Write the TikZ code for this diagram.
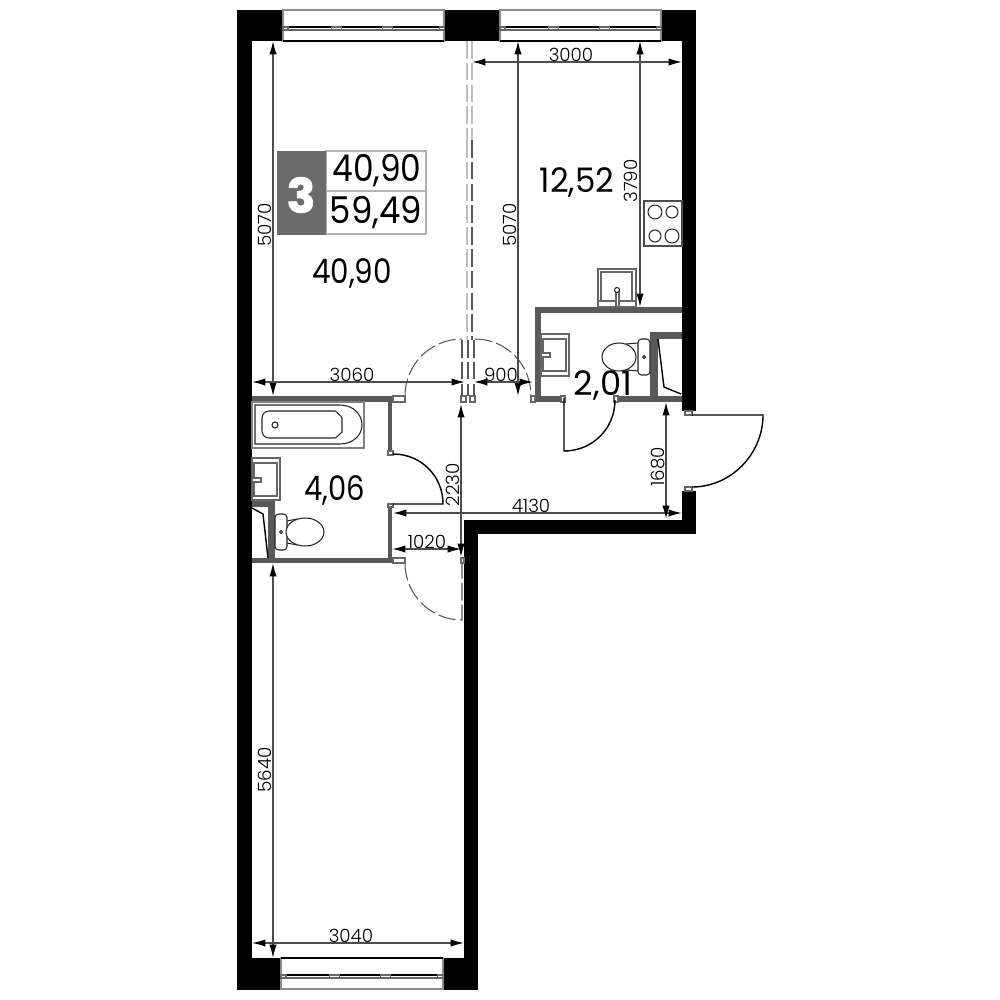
\documentclass[tikz,border=0pt]{standalone}
\usepackage{fontspec}
\setmainfont{Poppins}
\newfontfamily\thinfont{Poppins Light}
\usetikzlibrary{arrows.meta}
\definecolor{wallgray}{gray}{0.35}
\definecolor{badgegray}{gray}{0.42}
\def\dimPoints{{(273,41)/la}, {(273,396)/lb}, {(518,41)/ma}, {(518,396)/mb}, {(640,41)/ka}, {(640,307)/kb}, {(472,62)/ta}, {(682,62)/tb}, {(252,382)/ha}, {(465,382)/hb}, {(474,382)/da}, {(533,382)/db}, {(461,404)/ca}, {(461,557)/cb}, {(393,513)/ea}, {(682,513)/eb}, {(392,549)/ba}, {(461,549)/bb}, {(666,402)/fa}, {(666,519)/fb}, {(273,563)/sa}, {(273,958)/sb}, {(252,943)/ga}, {(464,943)/gb}}
\def\dimConnect{la/lb, ma/mb, ka/kb, ta/tb, ha/hb, da/db, ca/cb, ea/eb, ba/bb, fa/fb, sa/sb, ga/gb}
\tikzstyle{outer wall}=[fill=black,draw=none]
\tikzstyle{inner wall}=[fill=wallgray,draw=none]
\tikzstyle{fixture}=[draw=black!85,line width=0.3pt,fill=white]
\tikzstyle{basin}=[draw=black!60,line width=0.3pt,fill=white]
\tikzstyle{swing}=[draw=black,line width=0.4pt]
\tikzstyle{ghost line}=[draw=black!65,line width=0.3pt,dash pattern=on 5pt off 1.2pt]
\tikzstyle{faint line}=[draw=black!25,line width=0.35pt,dash pattern=on 5pt off 1.2pt]
\tikzstyle{jamb}=[draw=black!60,line width=0.3pt,fill=white]
\tikzstyle{pane}=[draw=black!45,line width=0.5pt,fill=white]
\tikzstyle{dimline}=[draw=black!70,line width=0.4pt,{Latex[black,length=3.8pt,width=2.1pt]}-{Latex[black,length=3.8pt,width=2.1pt]}]
\tikzstyle{dimend}=[coordinate]
\tikzstyle{dimlabel}=[font=\fontsize{5.2}{6}\selectfont\thinfont,inner sep=0pt]
\tikzstyle{area}=[font=\fontsize{9.6}{11}\selectfont,inner sep=0pt]
\begin{document}
\begin{tikzpicture}[x=0.01cm,y=-0.01cm]
  \useasboundingbox[fill=white] (0,0) rectangle (1000,1000);

  % First we draw the walls
  \foreach \ax/\ay/\bx/\by in {237/10/283/41, 444/10/500/41, 661/10/696/41, 237/41/252/990, 682/41/696/411, 682/491/696/534, 464/520/696/534, 464/534/478/958, 237/958/281/990, 443/958/478/990}
    \path[outer wall] (\ax,\ay) rectangle (\bx,\by);
  \foreach \ax/\ay/\bx/\by in {252/396/392/402, 388/396/392/452, 388/504/392/563, 252/558/392/563, 268/501/275/563, 252/501/275/507, 535/307/682/313, 535/307/541/402, 535/396/562/402, 616/396/682/402, 650/332/658/402, 650/332/682/339}
    \path[inner wall] (\ax,\ay) rectangle (\bx,\by);

  % Windows
  \foreach \ax/\bx/\ay/\ey in {283/444/10/41, 500/661/10/41, 281/443/958/958} {
    \path[pane] (\ax,\ay) rectangle (\bx,\ay+31);
    \draw[black,line width=0.4pt] (\ax,\ey) -- (\bx,\ey);
    \draw[black,line width=0.4pt] (\ax,\ay+17) -- (\bx,\ay+17);
    \draw[black!60,line width=0.5pt] (\ax,\ay+20) -- (\bx,\ay+20);
    \foreach \f/\w in {0/5, 0.3/10, 0.62/10, 0.97/5}
      \path[jamb] (\ax+\f*161,\ay+17) rectangle ++(\w,3);
  }

  % Partition and doors drawn as broken lines
  \foreach \lx in {467, 472}
    \draw[faint line] (\lx,41) -- (\lx,140);
  \draw[faint line] (467,140) -- (467,340);
  \draw[ghost line] (472,140) -- (472,340);
  \foreach \lx in {462, 468, 474}
    \draw[ghost line] (\lx,340) -- (\lx,396);
  \draw[ghost line] (405,396) .. controls (405,364) and (431,339) .. (462,339);
  \draw[ghost line] (475,339) .. controls (506,339) and (531,364) .. (531,396);
  \draw[ghost line] (405,563) .. controls (405,595) and (431,620) .. (462,620) -- (462,563);
  \foreach \ax/\ay/\bx/\by in {393/396/405/402, 393/558/405/563, 461/396/466/402, 470/396/475/402, 531/396/535/402, 461/558/464/563}
    \path[jamb] (\ax,\ay) rectangle (\bx,\by);

  % Doors
  \foreach \ax/\ay/\bx/\by in {388/451/393/455, 388/504/393/507, 561/396/565/402, 614/396/618/402, 685/411/692/415, 685/487/692/491}
    \path[jamb] (\ax,\ay) rectangle (\bx,\by);
  \draw[swing] (393,454) .. controls (421,454) and (443,476) .. (443,504) -- (393,504);
  \draw[swing] (564,398) -- (564,451) .. controls (593,451) and (615,428) .. (615,400);
  \draw[swing] (692,415) -- (763,415) .. controls (763,454) and (731,487) .. (692,487);

  % Bath
  \path[fixture,draw=black!50] (252,402) rectangle (364,448);
  \draw[fixture] (255,405) -- (340,405) .. controls (353,405) and (362,414) .. (362,425) .. controls (362,435) and (353,444) .. (340,444) -- (255,444) -- cycle;
  \draw[fixture,rounded corners=2pt] (262,411) -- (328,411) .. controls (336,411) and (342,417) .. (342,425) .. controls (342,432) and (336,438) .. (328,438) -- (262,438) -- cycle;
  \draw[fixture] (275,425) circle (3);

  % Basins
  \foreach \ax/\ay/\bx/\by/\cx/\cy/\dx/\dy/\fy in {252/458/280/500/254/463/277/496/478, 541/334/569/376/543/339/566/371/353} {
    \path[basin] (\ax,\ay) rectangle (\bx,\by);
    \path[basin] (\cx,\cy) rectangle (\dx,\dy);
    \path[basin] (\ax,\fy) rectangle (\ax+9,\fy+4);
  }
  \path[basin] (598,269) rectangle (636,307);
  \path[basin] (601,272) rectangle (632,301);
  \draw[basin] (598,301) -- (636,301);
  \path[basin] (616,292) rectangle (619,307);
  \draw[fixture] (617,290) circle (2.5);

  % Toilets
  \draw[fixture] (287,521) -- (297,519) (287,543) -- (297,545);
  \draw[fixture] (638,343) -- (626,344) (638,371) -- (626,370);
  \foreach \tx/\ty/\cx/\cy/\rx in {275/514/305/532/19, 638/339/619/357/17} {
    \draw[fixture,rounded corners=1pt] (\tx,\ty) rectangle (\tx+12,\ty+36);
    \draw[fixture] (\cx,\cy) ellipse ({\rx} and 14);
  }
  \draw[fixture] (281,532) circle (1.5);
  \draw[fixture] (644,357) circle (1.5);
  \draw[swing] (252,508) -- (263,514) -- (268,558);
  \draw[swing] (658,339) -- (664,387) -- (681,394);

  % Hob
  \path[fixture,draw=black!70] (644,201) rectangle (682,246);
  \foreach \cx/\cy/\rr in {655/212/7, 672/212/6, 655/236/6, 672/236/7}
    \draw[fixture] (\cx,\cy) circle (\rr);

  % Connect the dimension points with arrows
  \foreach \pos/\name in \dimPoints
    \node[dimend] (\name) at \pos {};
  \foreach \source/\dest in \dimConnect
    \path[dimline] (\source) -- (\dest);

  % Dimension labels
  \foreach \pos/\rot/\name/\txt in {{(265,225)/90/lbl-a/5070}, {(510,225)/90/lbl-b/5070}, {(631,181)/90/lbl-c/3790}, {(571,55)/0/lbl-d/3000}, {(352,375)/0/lbl-e/3060}, {(501,375)/0/lbl-f/900}, {(453,485)/90/lbl-g/2230}, {(531,506)/0/lbl-h/4130}, {(427,542)/0/lbl-i/1020}, {(658,467)/90/lbl-j/1680}, {(265,770)/90/lbl-k/5640}, {(351,936)/0/lbl-l/3040}}
    \node[dimlabel,rotate=\rot] (\name) at \pos {\txt};

  % Room areas
  \node[area] (room-a) at (352,273) {\addfontfeature{FakeStretch=0.87}40,90};
  \node[area] (room-b) at (577,182) {\addfontfeature{FakeStretch=0.96}12,52};
  \node[area] (room-c) at (335,490) {\addfontfeature{FakeStretch=0.86}4,06};
  \node[area] (room-d) at (603,385) {2,01};

  % The badge
  \path[fill=white,draw=black!30,line width=0.5pt] (326,151) rectangle (426,234);
  \draw[black!30,line width=0.5pt] (326,191) -- (426,191);
  \path[fill=badgegray] (277,151) rectangle (326,235);
  \node[inner sep=0pt,text=white,font=\fontsize{13.5}{15}\selectfont\bfseries] (badge-n) at (301,195) {\addfontfeature{FakeBold=1.5}3};
  \node[area,font=\fontsize{10.5}{12}\selectfont] (badge-a) at (377,171) {\addfontfeature{FakeStretch=0.89}40,90};
  \node[area,font=\fontsize{10.5}{12}\selectfont] (badge-b) at (376,213) {\addfontfeature{FakeStretch=0.92}59,49};
\end{tikzpicture}
\end{document}
